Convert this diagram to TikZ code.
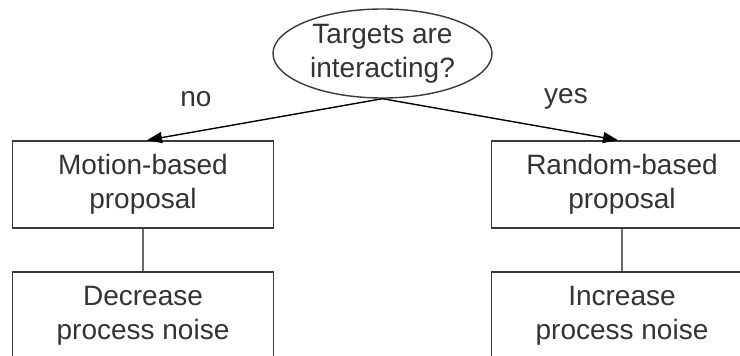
\documentclass[tikz,border=0pt]{standalone}
\usepackage{fontspec}
\setmainfont{Liberation Sans}
\usetikzlibrary{arrows.meta,shapes.geometric,calc}
\definecolor{ink}{HTML}{333333}
\definecolor{edge}{HTML}{3A3A3A}
\definecolor{link}{HTML}{6A6A6A}
\begin{document}
\begin{tikzpicture}[x=1pt,y=-1pt,
  every node/.style={font=\fontsize{28}{34}\selectfont, text=ink, align=center},
  stepbox/.style={draw=edge, line width=1.6pt, rectangle, minimum width=261pt, minimum height=87pt, inner sep=0pt},
  query/.style={draw=edge, line width=1.4pt, ellipse, minimum width=219pt, minimum height=89pt, inner sep=0pt},
  flow/.style={draw=black, line width=1.4pt, -{Triangle[length=15pt,width=11pt]}},
  tie/.style={draw=link, line width=1.6pt}]
\useasboundingbox (0,0) rectangle (740,356);
\clip (0,0) rectangle (740,356);

\node[query] (q) at (382.5,53.5) {Targets are\\interacting?};

\node[stepbox] (m) at (143,184.5) {Motion-based\\proposal};
\node[stepbox] (r) at (622,184.5) {Random-based\\proposal};
\node[stepbox] (d) at (143,315.5) {Decrease\\process noise};
\node[stepbox] (i) at (622,315.5) {Increase\\process noise};

\draw[flow] (q.south) -- ($(m.north)+(4,0)$);
\draw[flow] (q.south) -- ($(r.north)+(-4,0)$);

\node (no) at (196,99) {no};
\node (yes) at (566,99) {yes};

\draw[tie] (m.south) -- (d.north);
\draw[tie] (r.south) -- (i.north);
\end{tikzpicture}
\end{document}
